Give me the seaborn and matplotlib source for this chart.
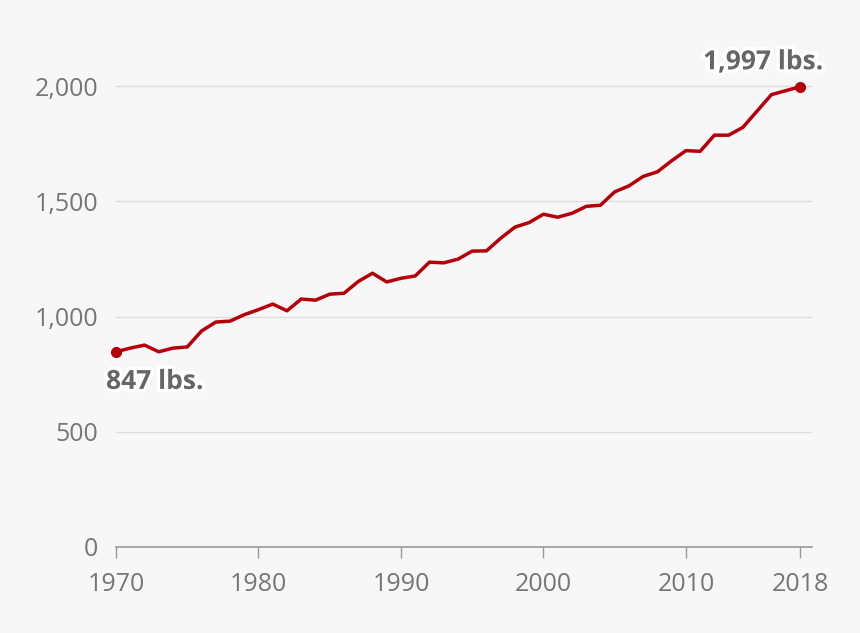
import pandas as pd
import numpy as np
import seaborn as sns
import matplotlib.pyplot as plt
import matplotlib.patheffects as pe

# Values (lbs. per year)
years = list(range(1970, 2019))
pounds = [847, 863, 876, 847, 863, 868, 937, 976, 980, 1008,
          1030, 1054, 1025, 1076, 1071, 1097, 1101, 1152, 1188, 1150,
          1166, 1176, 1236, 1233, 1249, 1284, 1285, 1340, 1388, 1408,
          1444, 1431, 1448, 1478, 1483, 1541, 1567, 1608, 1628, 1676,
          1720, 1717, 1787, 1787, 1821, 1892, 1963, 1980, 1997]
y_ticks = [0, 500, 1000, 1500, 2000]
x_ticks = [1970, 1980, 1990, 2000, 2010, 2018]

df = pd.DataFrame({'year': years, 'pounds': pounds})

bg = '#f7f7f7'
red = '#b5000b'
grey_text = '#767676'

sns.set_style('white', {'axes.facecolor': bg, 'figure.facecolor': bg,
                        'xtick.bottom': True})
plt.rcParams['font.family'] = ['Open Sans', 'DejaVu Sans']

fig = plt.figure(figsize=(8.6, 6.33), dpi=100)
ax = fig.add_axes([0.1349, 0.1359, 0.8093, 0.8009])

sns.lineplot(data=df, x='year', y='pounds', ax=ax, color=red, linewidth=2.5)

# end point markers
ends = df.iloc[[0, -1]]
ax.plot(ends['year'], ends['pounds'], 'o', color=red, markersize=7,
        zorder=5, clip_on=False)

ax.set_xlim(1970, 2018.85)
ax.set_ylim(0, 2200)
ax.set_yticks(y_ticks)
ax.set_yticklabels([f'{v:,}' for v in y_ticks])
ax.set_xticks(x_ticks)
ax.set_xticklabels([str(v) for v in x_ticks])

for v in y_ticks[1:]:
    ax.axhline(v, color='#dedede', linewidth=1, zorder=0)

for s in ['top', 'right', 'left']:
    ax.spines[s].set_visible(False)
ax.spines['bottom'].set_color('#999999')
ax.spines['bottom'].set_linewidth(1.2)

ax.tick_params(axis='x', bottom=True, colors='#999999', length=8, width=1,
               direction='out', labelcolor=grey_text, labelsize=18, pad=10)
ax.tick_params(axis='y', length=0, labelcolor=grey_text, labelsize=18, pad=13)

ax.set_xlabel('')
ax.set_ylabel('')

halo = [pe.withStroke(linewidth=5, foreground='white')]
ax.text(1969.3, pounds[0] - 70, f'{pounds[0]:,} lbs.', fontsize=19, fontweight='bold',
        color='#666666', ha='left', va='top', path_effects=halo)
ax.text(2019.6, pounds[-1] + 50, f'{pounds[-1]:,} lbs.', fontsize=19, fontweight='bold',
        color='#666666', ha='right', va='bottom', path_effects=halo, clip_on=False)

plt.savefig('out.png', dpi=100, facecolor=bg)
